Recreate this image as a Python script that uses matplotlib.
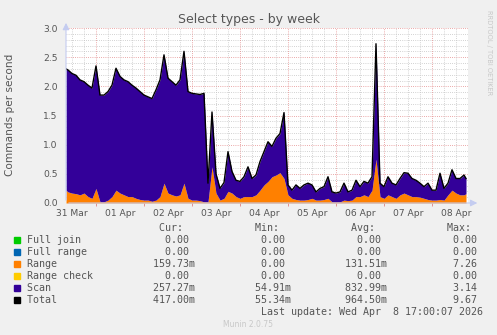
import numpy as np
import matplotlib
matplotlib.use("Agg")
from matplotlib import pyplot as plt
from matplotlib.patches import Rectangle

# hours since 01 Apr 00:00
hours = np.r_[-15, np.arange(-14, 185, 2), 185]

total = [2.30, 2.28, 2.22, 2.19, 2.11, 2.08, 2.02, 1.97, 2.35, 1.85,
         1.85, 1.91, 2.02, 2.31, 2.17, 2.11, 2.08, 2.02, 1.97, 1.91,
         1.85, 1.82, 1.79, 1.94, 2.11, 2.54, 2.14, 2.08, 2.02, 2.11,
         2.60, 1.91, 1.88, 1.87, 1.86, 1.88, 0.34, 1.56, 0.50, 0.25,
         0.35, 0.88, 0.54, 0.39, 0.37, 0.45, 0.62, 0.42, 0.48, 0.71,
         0.88, 1.05, 0.97, 1.11, 1.19, 1.55, 0.31, 0.22, 0.31, 0.25,
         0.31, 0.34, 0.31, 0.19, 0.25, 0.28, 0.45, 0.19, 0.17, 0.19,
         0.34, 0.19, 0.22, 0.39, 0.28, 0.37, 0.34, 0.45, 2.73, 0.34,
         0.28, 0.45, 0.34, 0.31, 0.42, 0.52, 0.51, 0.42, 0.39, 0.34,
         0.28, 0.34, 0.22, 0.22, 0.51, 0.25, 0.34, 0.57, 0.42, 0.42,
         0.48, 0.42]

range_ = [0.22, 0.19, 0.17, 0.16, 0.14, 0.17, 0.11, 0.08, 0.25, 0.02,
          0.02, 0.05, 0.11, 0.22, 0.17, 0.14, 0.11, 0.11, 0.08, 0.06,
          0.05, 0.05, 0.03, 0.05, 0.11, 0.34, 0.17, 0.14, 0.12, 0.14,
          0.34, 0.08, 0.05, 0.05, 0.04, 0.02, 0.02, 0.62, 0.17, 0.05,
          0.08, 0.20, 0.17, 0.11, 0.08, 0.11, 0.11, 0.11, 0.14, 0.22,
          0.31, 0.37, 0.45, 0.48, 0.52, 0.42, 0.14, 0.08, 0.06, 0.05,
          0.05, 0.06, 0.08, 0.05, 0.05, 0.06, 0.08, 0.02, 0.02, 0.02,
          0.05, 0.04, 0.05, 0.11, 0.11, 0.14, 0.11, 0.22, 0.75, 0.11,
          0.08, 0.14, 0.11, 0.08, 0.14, 0.17, 0.14, 0.11, 0.11, 0.10,
          0.08, 0.06, 0.05, 0.05, 0.06, 0.05, 0.14, 0.22, 0.17, 0.14,
          0.14, 0.16]

day_labels = ["31 Mar", "01 Apr", "02 Apr", "03 Apr", "04 Apr",
              "05 Apr", "06 Apr", "07 Apr", "08 Apr"]

legend_names = ["Full join", "Full range", "Range", "Range check", "Scan", "Total"]
legend_colors = ["#00CC00", "#0066B3", "#FF8000", "#FFCC00", "#330099", "#000000"]
cur = ["0.00 ", "0.00 ", "159.73m", "0.00 ", "257.27m", "417.00m"]
mins = ["0.00 ", "0.00 ", "0.00 ", "0.00 ", "54.91m", "55.34m"]
avgs = ["0.00 ", "0.00 ", "131.51m", "0.00 ", "832.99m", "964.50m"]
maxs = ["0.00 ", "0.00 ", "7.26 ", "0.00 ", "3.14 ", "9.67 "]

W, H = 497, 335
fig = plt.figure(figsize=(W / 100, H / 100), dpi=100, facecolor="#F0F0F0")

def fx(px):
    return px / W

def fy(py):
    return 1 - py / H

ax = fig.add_axes([fx(66), fy(203), fx(468) - fx(66), fy(28) - fy(203)])
ax.set_facecolor("white")

total = np.array(total)
range_ = np.array(range_)

# grid drawn by hand (rrdtool style)
grid_minor = "#c4c4c4"
grid_major = "#e48c8c"
dots = (0, (1, 1.6))
for v in np.arange(0.1, 3.01, 0.1):
    major = abs(v / 0.5 - round(v / 0.5)) < 1e-6
    ax.axhline(v, color=grid_major if major else grid_minor, lw=0.6, ls=dots, zorder=1)
for h in np.arange(-12, 187, 6):
    ax.axvline(h, color=grid_major if h % 24 == 0 else grid_minor, lw=0.6, ls=dots, zorder=1)

ax.fill_between(hours, 0, range_, color="#FF8000", lw=0, zorder=2)
ax.fill_between(hours, range_, total, color="#330099", lw=0, zorder=2)
ax.plot(hours, total, color="black", lw=1.0, zorder=3)

ax.set_xlim(-15, 186)
ax.set_ylim(0, 3.0)

for s in ax.spines.values():
    s.set_visible(False)

ax.set_yticks(np.arange(0, 3.01, 0.5))
ax.set_yticklabels(["%.1f" % v for v in np.arange(0, 3.01, 0.5)])
ax.set_xticks(np.arange(-12, 181, 24))
ax.set_xticklabels(day_labels)
ax.set_xticks(np.arange(0, 169, 24), minor=True)
ax.tick_params(axis="both", which="major", length=0, labelsize=6.6, colors="#555555")
ax.tick_params(axis="x", which="major", pad=4)
ax.tick_params(axis="y", which="major", pad=6)
ax.tick_params(axis="x", which="minor", length=2, color="#e08080", width=0.6)

# axis lines with arrows
axis_col = "#c4ccf0"
ax.annotate("", xy=(0, 1.045), xytext=(0, 0), xycoords="axes fraction",
            arrowprops=dict(arrowstyle="-|>,head_length=0.4,head_width=0.2",
                            color=axis_col, lw=0.8), annotation_clip=False)
ax.annotate("", xy=(1.03, 0), xytext=(0, 0), xycoords="axes fraction",
            arrowprops=dict(arrowstyle="-|>,head_length=0.4,head_width=0.2",
                            color=axis_col, lw=0.8), annotation_clip=False)

txt = "#555555"
fig.text(fx(249), fy(19), "Select types - by week", ha="center", va="center",
         fontsize=9, color=txt)
fig.text(fx(10), fy(115), "Commands per second", rotation=90, ha="center",
         va="center", fontsize=7.6, color=txt)
fig.text(fx(489), fy(53), "RRDTOOL / TOBI OETIKER", rotation=270, ha="center",
         va="center", fontsize=4.8, color="#c8c8c8")

mono = "DejaVu Sans Mono"
fs = 7.2
x0 = fx(26.7)
header = " " * 22 + "Cur:" + " " * 12 + "Min:" + " " * 12 + "Avg:" + " " * 12 + "Max:"
fig.text(x0, fy(227.7), header, family=mono, fontsize=fs, color=txt, va="center")
for i, name in enumerate(legend_names):
    y = 240 + 12 * i
    row = name.ljust(28 - len(cur[i])) + cur[i] + mins[i].rjust(16) + avgs[i].rjust(16) + maxs[i].rjust(16)
    fig.text(x0, fy(y), row, family=mono, fontsize=fs, color=txt, va="center")
    fig.patches.append(Rectangle((fx(14), fy(y + 3)), fx(6), fy(0) - fy(6),
                                 transform=fig.transFigure, color=legend_colors[i]))
fig.text(fx(482.7), fy(311.7), "Last update: Wed Apr  8 17:00:07 2026", family=mono,
         fontsize=fs, color=txt, va="center", ha="right")
fig.text(fx(248), fy(324.3), "Munin 2.0.75", ha="center", va="center",
         fontsize=5.5, color="#c8c8c8")

fig.savefig("out.png", dpi=100, facecolor=fig.get_facecolor())
